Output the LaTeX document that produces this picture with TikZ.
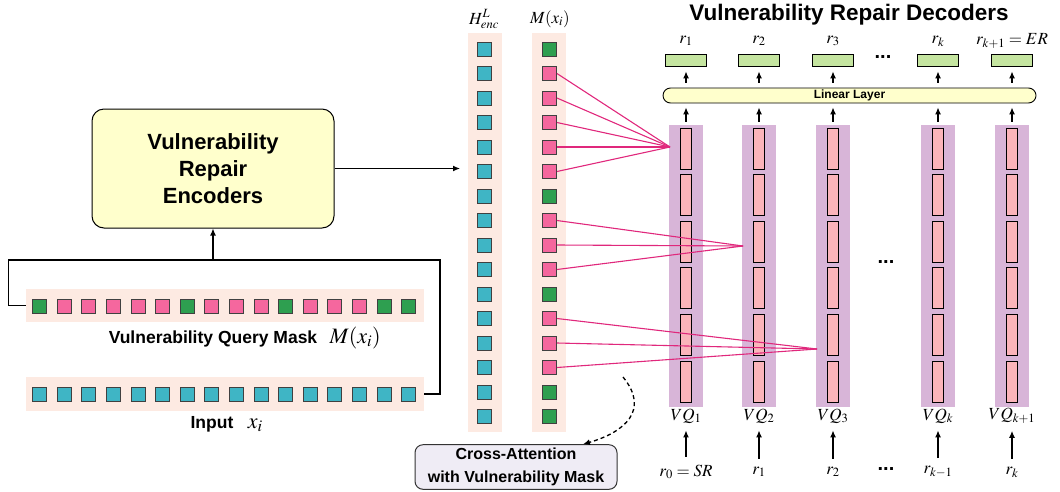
\documentclass[tikz,border=0pt]{standalone}
\usepackage{mathptmx}
\usepackage{fontspec}
\setmainfont{Liberation Sans}
\usetikzlibrary{arrows.meta,positioning}

\definecolor{sqcyan}{HTML}{3FB5C5}
\definecolor{sqgreen}{HTML}{2E9F50}
\definecolor{sqpink}{HTML}{F5679E}
\definecolor{rowbg}{HTML}{FDEAE2}
\definecolor{decbg}{HTML}{D8B5D8}
\definecolor{cellpink}{HTML}{FBB4BA}
\definecolor{outgreen}{HTML}{C5E5A0}
\definecolor{encyellow}{HTML}{FFFFCC}
\definecolor{attline}{HTML}{E0287C}
\definecolor{xattbg}{HTML}{EFECF5}

\begin{document}
\begin{tikzpicture}[x=1pt,y=-1pt]
    % ==========================
    % settings
    % ==========================
    \def\hpitch{24.6} % pitch of the squares in a row
    \def\vpitch{24.5} % pitch of the squares in a column
    \def\cpitch{46.6} % pitch of the decoder cells
    \def\maskpattern{sqgreen,sqpink,sqpink,sqpink,sqpink,sqpink,sqgreen,sqpink,sqpink,sqpink,sqgreen,sqpink,sqpink,sqpink,sqgreen,sqgreen}
    \tikzset{
        sq/.style={draw=black!75, line width=0.9pt, minimum size=14pt, inner sep=0pt}, % token square
        stripe/.style={fill=rowbg, inner sep=0pt}, % light background strip
        colbg/.style={fill=decbg, minimum width=34pt, minimum height=282pt, inner sep=0pt},
        cell/.style={draw, fill=cellpink, line width=0.9pt, minimum width=11pt, minimum height=41pt, inner sep=0pt},
        outbox/.style={draw, fill=outgreen, line width=0.9pt, minimum width=41pt, minimum height=12pt, inner sep=0pt},
        arr/.style={-{Latex[length=7pt,width=6pt]}, line width=1.2pt},
        link/.style={line width=1.2pt},
        att/.style={attline, line width=1.1pt},
        lbl/.style={inner sep=0pt, font=\fontsize{17}{19}\selectfont},
        bold/.style={inner sep=0pt, font=\bfseries\fontsize{#1}{#1}\selectfont}
    }
    \useasboundingbox (0,0) rectangle (1060,491);

    % ==========================
    % 1. encoder side
    % ==========================
    \node[draw, fill=encyellow, line width=1pt, rounded corners=12pt,
          minimum width=242pt, minimum height=119pt, align=center,
          font=\bfseries\fontsize{22}{27}\selectfont] (enc) at (213,168.5)
          {Vulnerability\\Repair\\Encoders};

    % query mask row
    \node[stripe, minimum width=398pt, minimum height=33pt] (maskrow) at (225,305.5) {};
    \foreach \c [count=\i from 0] in \maskpattern
        \node[sq, fill=\c] (mask\i) at ({39.7+\hpitch*\i},306) {};
    \node[bold=17.5] (qlabel) at (213,339) {Vulnerability Query Mask};
    \node[inner sep=0pt, base right=12pt of qlabel, font=\fontsize{22}{22}\selectfont] (qmath) {$M(x_i)$};

    % input row
    \node[stripe, minimum width=398pt, minimum height=34pt] (inrow) at (225,394) {};
    \foreach \i in {0,...,15}
        \node[sq, fill=sqcyan] (in\i) at ({39.7+\hpitch*\i},394) {};
    \node[bold=17.5] (inlabel) at (212,424) {Input};
    \node[inner sep=0pt, base right=14pt of inlabel, font=\fontsize{22}{22}\selectfont] (inmath) {$x_i$};

    % both rows go into the encoder
    \coordinate (join) at (213,260);
    \draw[link] (maskrow.west) -- ++(-17,0) |- (join) -| (440,300) |- (inrow.east);
    \draw[arr] (join) -- (enc.south);

    % ==========================
    % 2. encoder output and mask columns
    % ==========================
    \node[stripe, minimum width=34pt, minimum height=399pt] (hcol) at (485,232.5) {};
    \node[stripe, minimum width=34pt, minimum height=399pt] (mcol) at (548.5,232.5) {};
    \foreach \i in {0,...,15}
        \node[sq, fill=sqcyan] (h\i) at (484.5,{49+\vpitch*\i}) {};
    \foreach \c [count=\i from 0] in \maskpattern
        \node[sq, fill=\c] (m\i) at (549.5,{49+\vpitch*\i}) {};
    \node[lbl] (hlabel) at (484,19) {$H^{L}_{enc}$};
    \node[lbl] (mlabel) at (550,19) {$M(x_i)$};

    \coordinate (hin) at (460,168.5);
    \draw[arr] (enc.east) -- (hin);

    % ==========================
    % 3. decoders
    % ==========================
    \node[bold=22.5] (title) at (849,15) {Vulnerability Repair Decoders};
    \node[draw, fill=encyellow, line width=0.9pt, rounded corners=7.5pt,
          minimum width=373pt, minimum height=15pt, inner sep=0pt,
          font=\bfseries\fontsize{12}{12}\selectfont] (lin) at (849.5,95.5) {Linear Layer};

    \foreach \x/\rtop/\vq/\rbot [count=\j] in {686/r_1/VQ_1/{r_0 = SR},
                                               759/r_2/VQ_2/r_1,
                                               833/r_3/VQ_3/r_2,
                                               938/r_k/VQ_k/r_{k-1},
                                               1012/{r_{k+1} = ER}/VQ_{k+1}/r_k} {
        % column with its cells
        \node[colbg] (dec\j) at (\x,266) {};
        \foreach \k in {0,...,5}
            \node[cell] (cell\j-\k) at (\x,{148.5+\cpitch*\k}) {};
        % output side
        \node[outbox] (out\j) at (\x,60) {};
        \node[lbl] (rout\j) at (\x,41) {$\rtop$};
        \draw[arr, shorten <=3pt, shorten >=4pt] (dec\j.north) -- (dec\j.north |- lin.south);
        \draw[arr, shorten <=5pt, shorten >=5pt] (out\j |- lin.north) -- (out\j.south);
        % input side
        \node[lbl] (vq\j) at (\x,416) {$\vq$};
        \node[lbl] (rin\j) at (\x,472) {$\rbot$};
        \draw[arr, shorten <=8pt, shorten >=7pt] (rin\j.north) -- (vq\j.south);
    }
    \node[bold=20] (dotstop) at (883,57) {...};
    \node[bold=20] (dotsmid) at (886,262) {...};
    \node[bold=20] (dotsbot) at (886,469) {...};

    % ==========================
    % 4. cross attention
    % ==========================
    \coordinate (att1) at (670,147);
    \coordinate (att2) at (743,246);
    \coordinate (att3) at (817,349);
    \foreach \i in {1,...,5}  \draw[att] (m\i.east) -- (att1);
    \foreach \i in {7,8,9}    \draw[att] (m\i.east) -- (att2);
    \foreach \i in {11,12,13} \draw[att] (m\i.east) -- (att3);

    \node[draw=black!80, fill=xattbg, line width=1pt, rounded corners=8pt,
          minimum width=202pt, minimum height=44pt, align=center,
          font=\bfseries\fontsize{16}{23}\selectfont] (xatt) at (516,467)
          {Cross-Attention\\with Vulnerability Mask};
    \coordinate (dstart) at (623,377);
    \draw[arr, dashed, dash pattern=on 4pt off 3pt, line width=1.3pt]
        (dstart) .. controls (650,410) and (625,432) .. ([xshift=67pt]xatt.north);
\end{tikzpicture}
\end{document}
